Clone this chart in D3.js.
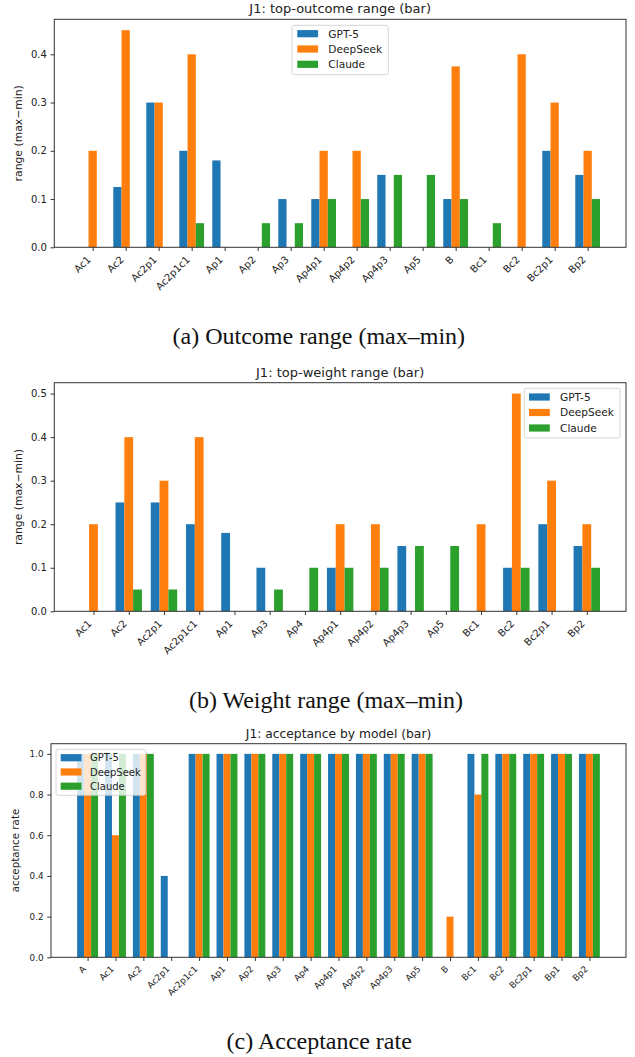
<!DOCTYPE html>
<html>
<head>
<meta charset="utf-8">
<script src="https://cdn.jsdelivr.net/npm/d3@7"></script>
<style>
  body { margin: 0; background: #fff; }
  text { font-family: "DejaVu Sans", sans-serif; fill: #222; }
  .caption { font-family: "Liberation Serif", "Times New Roman", serif; fill: #111; }
</style>
</head>
<body>
<svg width="635" height="1057"></svg>
<script>
// model names and colours (matplotlib tab10)
var models = ["GPT-5", "DeepSeek", "Claude"];
var colors = ["#1f77b4", "#ff7f0e", "#2ca02c"];

// (a) top-outcome range
var outcomeCats = ["Ac1", "Ac2", "Ac2p1", "Ac2p1c1", "Ap1", "Ap2", "Ap3", "Ap4p1", "Ap4p2", "Ap4p3", "Ap5", "B", "Bc1", "Bc2", "Bc2p1", "Bp2"];
var outcomeGpt5     = [0, 0.125, 0.3, 0.2, 0.18, 0, 0.1, 0.1, 0, 0.15, 0, 0.1, 0, 0, 0.2, 0.15];
var outcomeDeepSeek = [0.2, 0.45, 0.3, 0.4, 0, 0, 0, 0.2, 0.2, 0, 0, 0.375, 0, 0.4, 0.3, 0.2];
var outcomeClaude   = [0, 0, 0, 0.05, 0, 0.05, 0.05, 0.1, 0.1, 0.15, 0.15, 0.1, 0.05, 0, 0, 0.1];
var outcomeTicks = [0, 0.1, 0.2, 0.3, 0.4];

// (b) top-weight range
var weightCats = ["Ac1", "Ac2", "Ac2p1", "Ac2p1c1", "Ap1", "Ap3", "Ap4", "Ap4p1", "Ap4p2", "Ap4p3", "Ap5", "Bc1", "Bc2", "Bc2p1", "Bp2"];
var weightGpt5     = [0, 0.25, 0.25, 0.2, 0.18, 0.1, 0, 0.1, 0, 0.15, 0, 0, 0.1, 0.2, 0.15];
var weightDeepSeek = [0.2, 0.4, 0.3, 0.4, 0, 0, 0, 0.2, 0.2, 0, 0, 0.2, 0.5, 0.3, 0.2];
var weightClaude   = [0, 0.05, 0.05, 0, 0, 0.05, 0.1, 0.1, 0.1, 0.15, 0.15, 0, 0.1, 0, 0.1];
var weightTicks = [0, 0.1, 0.2, 0.3, 0.4, 0.5];

// (c) acceptance rate
var acceptCats = ["A", "Ac1", "Ac2", "Ac2p1", "Ac2p1c1", "Ap1", "Ap2", "Ap3", "Ap4", "Ap4p1", "Ap4p2", "Ap4p3", "Ap5", "B", "Bc1", "Bc2", "Bc2p1", "Bp1", "Bp2"];
var acceptGpt5     = [1, 1, 1, 0.4, 1, 1, 1, 1, 1, 1, 1, 1, 1, 0, 1, 1, 1, 1, 1];
var acceptDeepSeek = [1, 0.6, 1, 0, 1, 1, 1, 1, 1, 1, 1, 1, 1, 0.2, 0.8, 1, 1, 1, 1];
var acceptClaude   = [1, 1, 1, 0, 1, 1, 1, 1, 1, 1, 1, 1, 1, 0, 1, 1, 1, 1, 1];
var acceptTicks = [0, 0.2, 0.4, 0.6, 0.8, 1.0];

var svg = d3.select("svg");
svg.append("rect").attr("width", 635).attr("height", 1057).attr("fill", "#fff");

var barW = 0.25;

function drawPanel(p) {
  var n = p.cats.length;
  // matplotlib style 5% margins around the bars
  var lo = -1.5 * barW, hi = n - 1 + 1.5 * barW, pad = 0.05 * (hi - lo);
  var x = d3.scaleLinear().domain([lo - pad, hi + pad]).range([p.left, p.right]);
  var y = d3.scaleLinear().domain([0, p.yMax]).range([p.bottom, p.top]);
  var g = svg.append("g");

  // bars
  p.series.forEach(function(vals, j) {
    g.append("g").selectAll("rect")
      .data(vals.map(function(v, i) { return {i: i, v: v}; }).filter(function(d) { return d.v > 0; }))
      .enter().append("rect")
        .attr("x", function(d) { return x(d.i + (j - 1) * barW - barW / 2); })
        .attr("y", function(d) { return y(d.v); })
        .attr("width", x(barW) - x(0))
        .attr("height", function(d) { return y(0) - y(d.v); })
        .attr("fill", colors[j]);
  });

  // frame
  g.append("rect")
    .attr("x", p.left).attr("y", p.top)
    .attr("width", p.right - p.left).attr("height", p.bottom - p.top)
    .attr("fill", "none").attr("stroke", "#333").attr("stroke-width", 1);

  // y axis
  var ya = g.append("g").attr("transform", "translate(" + p.left + ",0)")
    .call(d3.axisLeft(y).tickValues(p.yTicks).tickFormat(d3.format(".1f")).tickSize(3.7).tickPadding(3.7));
  ya.select(".domain").remove();
  ya.selectAll("line").attr("stroke", "#333");
  ya.selectAll("text").attr("font-size", p.tickSize).attr("font-family", "DejaVu Sans").attr("fill", "#222");

  // x axis, labels rotated 45 degrees and right aligned on the tick
  var s = p.tickSize;
  var xa = g.append("g").attr("transform", "translate(0," + p.bottom + ")")
    .call(d3.axisBottom(x).tickValues(d3.range(n)).tickFormat(function(i) { return p.cats[i]; }).tickSize(3.7));
  xa.select(".domain").remove();
  xa.selectAll("line").attr("stroke", "#333");
  xa.selectAll("text")
    .attr("font-size", s).attr("font-family", "DejaVu Sans").attr("fill", "#222")
    .attr("text-anchor", "end")
    .attr("dy", null).attr("y", null)
    .attr("transform", "translate(" + (-0.17 * s) + "," + (7.5 + 0.54 * s) + ") rotate(-45)");

  // title
  g.append("text").attr("x", (p.left + p.right) / 2).attr("y", p.top - p.titleGap)
    .attr("text-anchor", "middle").attr("font-size", p.titleSize).text(p.title);

  // y label
  g.append("text")
    .attr("transform", "translate(" + p.ylabelX + "," + (p.top + p.bottom) / 2 + ") rotate(-90)")
    .attr("text-anchor", "middle").attr("font-size", p.ylabelSize).text(p.ylabel);

  // legend
  var L = p.legend;
  var lg = g.append("g");
  lg.append("rect").attr("x", L.x).attr("y", L.y).attr("width", L.w).attr("height", L.h)
    .attr("rx", 2).attr("fill", "#fff").attr("fill-opacity", 0.8)
    .attr("stroke", "#ccc").attr("stroke-width", 0.8);
  models.forEach(function(m, j) {
    var cy = L.y + L.first + j * L.step;
    lg.append("rect").attr("x", L.x + L.patchX).attr("y", cy - 3.6).attr("width", 20.8).attr("height", 7.2).attr("fill", colors[j]);
    lg.append("text").attr("x", L.x + L.textX).attr("y", cy + 0.365 * L.font).attr("font-size", L.font).text(m);
  });

  // caption
  svg.append("text").attr("class", "caption").attr("x", p.captionX).attr("y", p.captionY)
    .attr("text-anchor", "middle").attr("font-size", 24).text(p.caption);
}

drawPanel({
  cats: outcomeCats, series: [outcomeGpt5, outcomeDeepSeek, outcomeClaude], yTicks: outcomeTicks,
  left: 54.3, right: 626, top: 19.3, bottom: 247.3, yMax: 0.4725, tickSize: 10,
  title: "J1: top-outcome range (bar)", titleSize: 13, titleGap: 6,
  ylabel: "range (max\u2212min)", ylabelX: 21.5, ylabelSize: 10.8,
  legend: {x: 292, y: 25.3, w: 96.3, h: 49.4, first: 8.4, step: 15.3, font: 10.6, patchX: 5.3, textX: 36.3},
  caption: "(a) Outcome range (max\u2013min)", captionX: 318.8, captionY: 344
});

drawPanel({
  cats: weightCats, series: [weightGpt5, weightDeepSeek, weightClaude], yTicks: weightTicks,
  left: 54.3, right: 626, top: 382.7, bottom: 611.3, yMax: 0.525, tickSize: 10,
  title: "J1: top-weight range (bar)", titleSize: 13, titleGap: 6.1,
  ylabel: "range (max\u2212min)", ylabelX: 21.5, ylabelSize: 10.8,
  legend: {x: 524.3, y: 388.3, w: 95.7, h: 49.7, first: 8.7, step: 15.5, font: 10.6, patchX: 4.7, textX: 35.7},
  caption: "(b) Weight range (max\u2013min)", captionX: 326, captionY: 708.3
});

drawPanel({
  cats: acceptCats, series: [acceptGpt5, acceptDeepSeek, acceptClaude], yTicks: acceptTicks,
  left: 51, right: 626, top: 743.7, bottom: 957.3, yMax: 1.05, tickSize: 8.8,
  title: "J1: acceptance by model (bar)", titleSize: 12.3, titleGap: 5.3,
  ylabel: "acceptance rate", ylabelX: 19.3, ylabelSize: 10.3,
  legend: {x: 56, y: 749.3, w: 89.7, h: 46, first: 8.4, step: 14.25, font: 10, patchX: 4.7, textX: 34},
  caption: "(c) Acceptance rate", captionX: 319.2, captionY: 1048.5
});
</script>
</body>
</html>
